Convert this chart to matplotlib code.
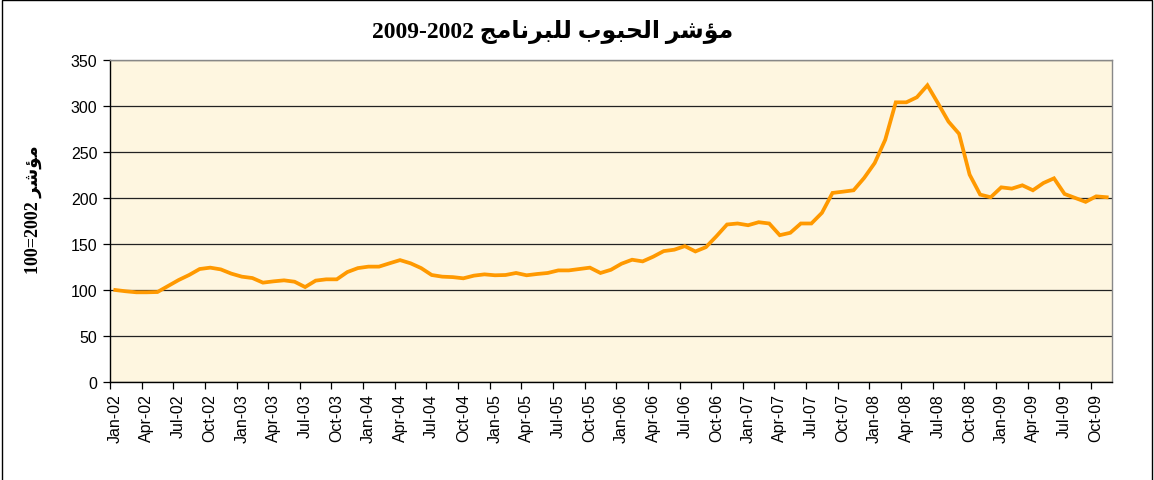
import matplotlib
matplotlib.use("Agg")
import matplotlib.pyplot as plt
import numpy as np
import pandas as pd
from matplotlib.patches import Rectangle

# ---- data ----
months = pd.date_range("2002-01-01", periods=95, freq="MS")
month_labels = [d.strftime("%b-%y") for d in months]
index_values = [
    100, 98.6, 97.5, 97.5, 97.8, 104.3, 110.8, 116.3, 122.8, 124.3, 122.4, 117.8,
    114.5, 113, 108, 109.4, 110.5, 109, 103.2, 110.2, 111.6, 111.6, 119.5, 123.8,
    125.4, 125.4, 129, 132.5, 129, 123.8, 116.3, 114.5, 114, 112.7, 115.6, 117,
    116, 116.3, 118.5, 116, 117.4, 118.5, 121.3, 121.3, 122.8, 124.3, 118.5, 122,
    128.6, 132.9, 131.1, 136.2, 142.3, 143.8, 147.7, 141.9, 146.6, 158.5, 171.2, 172.3,
    170.4, 173.7, 172.3, 159.6, 162.2, 172.3, 172.3, 183.9, 205.5, 206.9, 208.4, 221.8,
    238, 263.3, 304, 304, 309.5, 322.5, 303, 283, 269.8, 225.4, 203.7, 200.8,
    211.6, 210.2, 213.8, 208.4, 216.3, 221.4, 204.4, 200.1, 195.8, 201.8, 200.8,
]
y_ticks = [0, 50, 100, 150, 200, 250, 300, 350]

# Arabic text in visual order using presentation forms (matplotlib has no shaping)
w_index = "\uFEAE\uFEB7\uFE86\uFEE3"                      # مؤشر
w_grains = "\uFE8F\uFEEE\uFE92\uFEA4\uFEDF\uFE8D"         # الحبوب
w_program = "\uFE9E\uFEE3\uFE8E\uFEE7\uFEAE\uFE92\uFEE0\uFEDF"  # للبرنامج
title_text = "2009-2002 " + w_program + " " + w_grains + " " + w_index
ylabel_text = "100=2002 " + w_index

W, H = 1154, 481
fig = plt.figure(figsize=(W / 100, H / 100), dpi=100)
fig.patch.set_facecolor("white")
fig.add_artist(Rectangle((0.002, -0.05), 0.996, 1.048, transform=fig.transFigure,
                         fill=False, edgecolor="black", linewidth=1.0))

ax = fig.add_axes([110 / W, 1 - 383 / H, (1112 - 110) / W, (383 - 61) / H])
ax.set_facecolor("#FEF6E0")

x = np.arange(len(index_values))
ax.plot(x, index_values, color="#FF9900", linewidth=2.7, solid_joinstyle="miter", zorder=3)

ax.set_xlim(-0.5, len(index_values) - 0.5)
ax.set_ylim(0, 350)
ax.set_yticks(y_ticks)
ax.set_yticklabels([str(v) for v in y_ticks], fontsize=11.5, family="Liberation Sans")
ax.yaxis.grid(True, color="#222222", linewidth=0.9)
ax.set_axisbelow(True)

label_pos = x[::3]
ax.set_xticks(label_pos)
ax.set_xticklabels([month_labels[i] for i in label_pos], rotation=90,
                   fontsize=11.5, family="Liberation Sans")
ax.tick_params(axis="x", which="major", length=0, pad=8)
ax.set_xticks(np.arange(-0.5, len(index_values), 3), minor=True)
ax.tick_params(axis="x", which="minor", length=5, width=0.9, direction="out", color="black")
ax.tick_params(axis="y", length=5, width=0.9, direction="out", pad=4)

for s in ["top", "right"]:
    ax.spines[s].set_color("#888888")
    ax.spines[s].set_linewidth(1.0)
for s in ["left", "bottom"]:
    ax.spines[s].set_color("black")
    ax.spines[s].set_linewidth(1.0)

fig.text(553 / W, 1 - 32 / H, title_text, ha="center", va="center",
         fontsize=17, fontweight="bold", family=["Liberation Serif", "DejaVu Sans"])
fig.text(33 / W, 1 - 210 / H, ylabel_text, ha="center", va="center", rotation=90,
         fontsize=13, fontweight="bold", family=["Liberation Serif", "DejaVu Sans"])

fig.savefig("out.png", dpi=100)
